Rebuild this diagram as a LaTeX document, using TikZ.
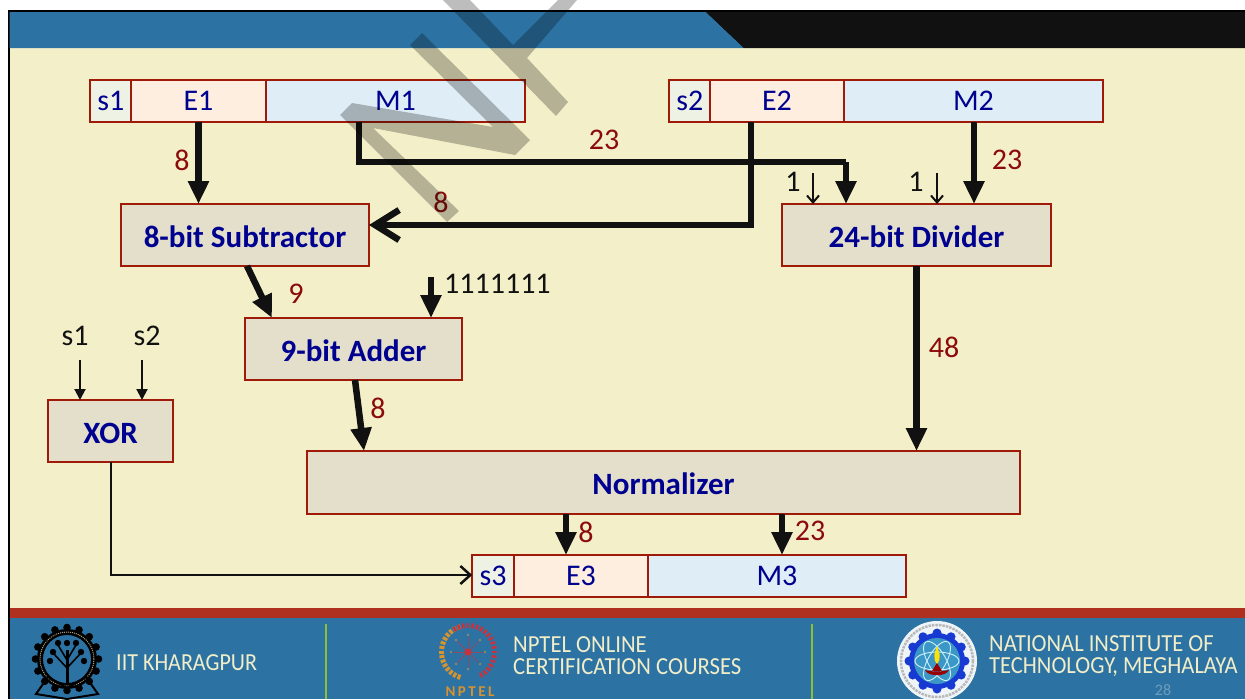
\documentclass[tikz,border=0pt]{standalone}
\usepackage{fontspec}
\setmainfont{Carlito}
\usetikzlibrary{arrows.meta,calc}
\definecolor{hdrblue}{HTML}{2C73A4}
\definecolor{paper}{HTML}{F3F0C9}
\definecolor{footred}{HTML}{B03020}
\definecolor{boxfill}{HTML}{E3DFCB}
\definecolor{boxedge}{HTML}{A01A0A}
\definecolor{efill}{HTML}{FDEEE0}
\definecolor{mfill}{HTML}{DFEEF6}
\definecolor{sfill}{HTML}{EEF2E4}
\definecolor{navytext}{HTML}{000090}
\definecolor{darkred}{HTML}{8B0A0A}
\definecolor{ink}{HTML}{111111}
\definecolor{foottext}{HTML}{F1EDC8}
\definecolor{sepgreen}{HTML}{8FBF30}
\definecolor{logoorange}{HTML}{D8922E}
\definecolor{logored}{HTML}{C8323C}
\definecolor{pagenum}{HTML}{6E9DBD}
\newcommand{\lowered}[1]{\raisebox{-12.3pt}[0pt][0pt]{#1}}
\newcommand{\narrowed}[2]{\scalebox{#1}[1]{#2}}
\tikzset{
  x=1pt,y=-1pt,
  cell/.style={draw=boxedge,line width=2.4pt,outer sep=0pt,inner sep=0pt,text=navytext,font=\fontsize{30}{30}\selectfont,minimum height=42pt},
  sbit/.style={cell,fill=sfill,minimum width=41.5pt},
  ebit/.style={cell,fill=efill,minimum width=134.5pt},
  mbit/.style={cell,fill=mfill,minimum width=259pt},
  unit/.style={draw=boxedge,line width=2.4pt,outer sep=0pt,inner sep=0pt,fill=boxfill,text=navytext,font=\fontsize{31}{31}\selectfont\bfseries},
  width label/.style={text=darkred,font=\fontsize{30}{30}\selectfont,inner sep=0pt},
  ink label/.style={text=ink,font=\fontsize{30}{30}\selectfont,inner sep=0pt},
  fat/.style={draw=ink,line width=6.5pt,-{Triangle[length=23pt,width=20pt]}},
  fatline/.style={draw=ink,line width=6.5pt},
  fatopen/.style={draw=ink,line width=6.5pt,-{Straight Barb[length=24pt,width=30pt]}},
  slim/.style={draw=ink,line width=2pt,-{Straight Barb[length=7pt,width=12pt]}},
  slimfill/.style={draw=ink,line width=2pt,-{Triangle[length=11pt,width=11pt]}},
  midopen/.style={draw=ink,line width=2.5pt,-{Straight Barb[length=10pt,width=18pt]}},
  foot/.style={text=foottext,inner sep=0pt,anchor=west,font=\fontsize{24.5}{22}\selectfont,align=left},
  water/.style={fill=black,fill opacity=.26,draw=none},
}
\begin{document}
\begin{tikzpicture}
\useasboundingbox (0,0) rectangle (1245,699);
% slide
\fill[white] (0,0) rectangle (1245,699);
\fill[black] (8,10) rectangle (1245,699);
\fill[paper] (9.5,48) rectangle (1245,608);
\fill[hdrblue] (9.5,12) -- (706,12) -- (744,48) -- (9.5,48) -- cycle;
\fill[ink] (706,12) -- (1245,12) -- (1245,48) -- (744,48) -- cycle;
\fill[footred] (9.5,608) rectangle (1245,618);
\fill[hdrblue] (9.5,618) rectangle (1245,699);
\draw[sepgreen,line width=2.5pt] (326,624) -- (326,699);
\draw[sepgreen,line width=2.5pt] (812,624) -- (812,699);
% IIT logo
\begin{scope}
\clip (20,618) rectangle (120,699);
\foreach \a in {0,22.5,...,337.5}
  \fill[black] ($(67,659)+(\a:31.5)$) circle[radius=3.8];
\draw[black,line width=6pt] (67,659) circle[radius=27];
\draw[foottext!70!black,line width=1pt,densely dotted] (67,659) circle[radius=27];
\fill[hdrblue] (67,659) circle[radius=23.5];
\draw[black,line width=3pt] (67,684) -- (67,650);
\draw[black,line width=1.6pt] (67,668) -- (54,654) (67,668) -- (80,654) (67,660) -- (58,645) (67,660) -- (76,645);
\foreach \p/\q in {53/652,81/652,58/643,76/643,67/643,50/661,84/661}
  \fill[black] (\p,\q) circle[radius=3.2];
\draw[black,line width=2pt] (67,688) -- (48,677) -- (36,694) -- (67,699) -- (98,694) -- (86,677) -- cycle;
\end{scope}
\node[foot] (iit) at (116,663) {\narrowed{.9}{IIT KHARAGPUR}};
% NPTEL logo
\foreach \a in {110,120,...,250}
  \draw[logoorange,line width=3pt] ($(468,652)+(\a:24)$) -- ($(468,652)+(\a:29)$);
\foreach \a in {-120,-110,...,60}
  \draw[logored,line width=2.5pt] ($(468,652)+(\a:24)$) -- ($(468,652)+(\a:29)$);
\foreach \a in {0,45,...,315}{
  \draw[logored!60!hdrblue,line width=1pt] (468,652) -- ($(468,652)+(\a:15)$);
  \fill[logoorange!60!hdrblue] ($(468,652)+(\a:17)$) circle[radius=1.3];
}
\fill[logored] (468,652) circle[radius=3.5];
\node[text=logoorange,inner sep=0pt,font=\fontsize{15}{15}\selectfont\bfseries] (nptelmark) at (470,692) {N\,P\,T\,E\,L};
\node[foot] (nptel) at (513,656) {\narrowed{.925}{NPTEL ONLINE}\\\narrowed{.925}{CERTIFICATION COURSES}};
% NIT logo
\begin{scope}
\clip (885,618) rectangle (985,699);
\fill[white!92!hdrblue] (937,661) circle[radius=40];
\draw[black!28,line width=2.5pt,densely dotted] (937,661) circle[radius=36];
\foreach \a in {0,30,...,330}
  \fill[blue!50!hdrblue] ($(937,661)+(\a:28)$) circle[radius=4.5];
\fill[blue!50!hdrblue] (937,661) circle[radius=28];
\fill[cyan!50!hdrblue] (937,661) circle[radius=23];
\foreach \a in {0,60,120}
  \draw[white!80!cyan,line width=.9pt,rotate around={\a:(937,661)}] (937,661) ellipse[x radius=22,y radius=9];
\fill[yellow!85!orange] (937,664) .. controls (932,658) and (935,652) .. (937,646) .. controls (939,652) and (942,658) .. (937,664) -- cycle;
\fill[red!60!black] (925,670) .. controls (933,672) and (941,672) .. (949,670) .. controls (946,677) and (928,677) .. (925,670) -- cycle;
\fill[red!60!black] (937,663) -- (942,671) -- (932,671) -- cycle;
\end{scope}
\node[foot] (nit) at (989,656) {\narrowed{.92}{NATIONAL INSTITUTE OF}\\\narrowed{.92}{TECHNOLOGY, MEGHALAYA}};
\node[text=pagenum,inner sep=0pt,font=\fontsize{16}{16}\selectfont] (pg) at (1163,690) {28};
% registers
\node[sbit] (s1) at (110.75,101) {s1};
\node[ebit] (E1) at (198.5,101) {E1};
\node[mbit] (M1) at (395.5,101) {M1};
\node[sbit] (s2) at (689.75,101) {s2};
\node[ebit] (E2) at (777,101) {E2};
\node[mbit] (M2) at (973.5,101) {M2};
\node[sbit] (s3) at (493,576) {s3};
\node[ebit] (E3) at (581,576) {E3};
\node[mbit,minimum width=258pt] (M3) at (777,576) {M3};
% units
\node[unit,minimum width=248pt,minimum height=62pt] (sub) at (245,235) {\lowered{8-bit Subtractor}};
\node[unit,minimum width=269pt,minimum height=62pt] (div) at (916.5,235) {\lowered{24-bit Divider}};
\node[unit,minimum width=217pt,minimum height=62pt] (add) at (353.5,349) {\lowered{9-bit Adder}};
\node[unit,minimum width=125pt,minimum height=62pt] (xor) at (110.5,431) {\lowered{XOR}};
\node[unit,minimum width=713pt,minimum height=63pt] (norm) at (663.5,482.5) {\lowered{Normalizer}};
% free ends and guide columns
\coordinate (colA) at (359,162);
\coordinate (colB) at (846,162);
\coordinate (colC) at (751,225);
\coordinate (colD) at (813,173);
\coordinate (colE) at (937,173);
\coordinate (colF) at (974,0);
\coordinate (colG) at (247,0);
\coordinate (colH) at (272,0);
\coordinate (colI) at (355,0);
\coordinate (colJ) at (364,0);
\coordinate (colK) at (566,0);
\coordinate (colL) at (782,0);
\coordinate (colM) at (111,575);
\coordinate (oneTop) at (431,277);
\coordinate (sIn1) at (80,360);
\coordinate (sIn2) at (142,360);
% connectors
\draw[fat] (E1.south) -- (E1.south |- sub.north);
\draw[fatline] (M1.south -| colA) -- (colA) -- (colB);
\draw[fat] (colB) -- (colB |- div.north);
\draw[fatopen] (E2.south -| colC) -- (colC) -- (colC -| sub.east);
\draw[fat] (M2.south -| colF) -- (div.north -| colF);
\draw[slim] (colD) -- (colD |- div.north);
\draw[slim] (colE) -- (colE |- div.north);
\draw[fat] (div.south) -- (div.south |- norm.north);
\draw[fat] (sub.south -| colG) -- (add.north -| colH);
\draw[fat] (oneTop) -- (oneTop |- add.north);
\draw[fat] (add.south -| colI) -- (norm.north -| colJ);
\draw[slimfill] (sIn1) -- (sIn1 |- xor.north);
\draw[slimfill] (sIn2) -- (sIn2 |- xor.north);
\draw[midopen] (xor.south -| colM) -- (colM) -- (colM -| s3.west);
\draw[fat] (norm.south -| colK) -- (E3.north -| colK);
\draw[fat] (norm.south -| colL) -- (M3.north -| colL);
% labels
\node[width label] (l1) at (182,160) {8};
\node[width label] (l2) at (604,140) {23};
\node[width label] (l3) at (441,202) {8};
\node[width label] (l4) at (1007,160) {23};
\node[width label] (l5) at (944,347) {48};
\node[width label] (l6) at (296,294) {9};
\node[width label] (l7) at (378,408) {8};
\node[width label] (l8) at (586,532) {8};
\node[width label] (l9) at (810,531) {23};
\node[ink label] (o1) at (793,182) {1};
\node[ink label] (o2) at (916,182) {1};
\node[ink label,anchor=west] (ones) at (444,284) {1111111};
\node[ink label] (t1) at (75,336) {s1};
\node[ink label] (t2) at (147,336) {s2};
% watermark
\fill[water] (340,115) -- (352,103) -- (493,127) -- (410,45) -- (422,33) -- (530,140) -- (515,155) -- (373,128) -- (459,211) -- (447,222) -- cycle;
\fill[water] (443,0) -- (556,116) -- (568,102) -- (527,58) -- (577,0) -- (558,0) -- (513,45) -- (470,0) -- cycle;
\end{tikzpicture}
\end{document}
